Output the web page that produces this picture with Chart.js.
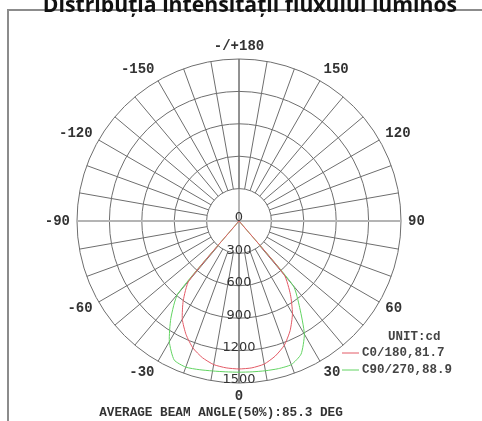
<!DOCTYPE html>
<html>
<head>
<meta charset="utf-8">
<script src="https://cdn.jsdelivr.net/npm/chart.js@4/dist/chart.umd.min.js"></script>
<style>
  html, body { margin: 0; padding: 0; background: #fff; }
  #wrap { position: relative; width: 482px; height: 421px; overflow: hidden; }
</style>
</head>
<body>
<div id="wrap"><canvas id="c" width="482" height="421"></canvas></div>
<script>
// angle labels, 5 deg steps, clockwise from the top (180) round to -175
const angles = [
  180, 175, 170, 165, 160, 155, 150, 145, 140, 135, 130, 125,
  120, 115, 110, 105, 100, 95, 90, 85, 80, 75, 70, 65,
  60, 55, 50, 45, 40, 35, 30, 25, 20, 15, 10, 5,
  0, -5, -10, -15, -20, -25, -30, -35, -40, -45, -50, -55,
  -60, -65, -70, -75, -80, -85, -90, -95, -100, -105, -110, -115,
  -120, -125, -130, -135, -140, -145, -150, -155, -160, -165, -170, -175
];

// intensity in cd, same order as angles
const c0_180 = [
  0, 0, 0, 0, 0, 0, 0, 0, 0, 0, 0, 0,
  0, 0, 0, 0, 0, 0, 0, 0, 0, 0, 0, 0,
  0, 0, 0, 0, 650, 830, 990, 1120, 1225, 1295, 1345, 1365,
  1370, 1365, 1350, 1310, 1250, 1160, 1050, 900, 720, 0, 0, 0,
  0, 0, 0, 0, 0, 0, 0, 0, 0, 0, 0, 0,
  0, 0, 0, 0, 0, 0, 0, 0, 0, 0, 0, 0
];
const c90_270 = [
  0, 0, 0, 0, 0, 0, 0, 0, 0, 0, 0, 0,
  0, 0, 0, 0, 0, 0, 0, 0, 0, 0, 0, 0,
  0, 0, 0, 0, 780, 980, 1210, 1360, 1415, 1415, 1408, 1402,
  1400, 1402, 1410, 1425, 1440, 1420, 1290, 1100, 880, 0, 0, 0,
  0, 0, 0, 0, 0, 0, 0, 0, 0, 0, 0, 0,
  0, 0, 0, 0, 0, 0, 0, 0, 0, 0, 0, 0
];

const ringStep = 300;
const ringMax = 1500;
const pointLabelAngles = [180, 150, 120, 90, 60, 30, 0, -30, -60, -90, -120, -150];
const pointLabelTexts = ['-/+180', '150', '120', '90', '60', '30', '0', '-30', '-60', '-90', '-120', '-150'];

const titleText = 'Distribuția intensității fluxului luminos';
const unitText = 'UNIT:cd';
const footText = 'AVERAGE BEAM ANGLE(50%):85.3 DEG';

const gridColor = '#6e6e6e';

// frame, grid spokes, cross lines, and all the texts
const polarDecor = {
  id: 'polarDecor',
  beforeDraw(chart) {
    const ctx = chart.ctx;
    ctx.save();
    ctx.strokeStyle = '#8c8c8c';
    ctx.lineWidth = 2;
    ctx.beginPath();
    ctx.moveTo(8, 421);
    ctx.lineTo(8, 10);
    ctx.lineTo(482, 10);
    ctx.stroke();
    ctx.restore();
  },
  beforeDatasetsDraw(chart) {
    const s = chart.scales.r;
    const ctx = chart.ctx;
    ctx.save();
    // spokes every 10 deg, from the first ring out
    ctx.strokeStyle = gridColor;
    ctx.lineWidth = 1;
    angles.forEach((a, i) => {
      if (a % 10 !== 0) return;
      const p1 = s.getPointPositionForValue(i, ringStep);
      const p2 = s.getPointPositionForValue(i, ringMax);
      ctx.beginPath();
      ctx.moveTo(p1.x, p1.y);
      ctx.lineTo(p2.x, p2.y);
      ctx.stroke();
    });
    // full horizontal and vertical lines through the centre
    const iTop = angles.indexOf(180), iBot = angles.indexOf(0);
    const iR = angles.indexOf(90), iL = angles.indexOf(-90);
    let a = s.getPointPositionForValue(iL, ringMax), b = s.getPointPositionForValue(iR, ringMax);
    ctx.strokeStyle = '#b4b4b4';
    ctx.lineWidth = 2;
    ctx.beginPath(); ctx.moveTo(a.x, a.y); ctx.lineTo(b.x, b.y); ctx.stroke();
    a = s.getPointPositionForValue(iTop, ringMax); b = s.getPointPositionForValue(iBot, ringMax);
    ctx.strokeStyle = gridColor;
    ctx.lineWidth = 1;
    ctx.beginPath(); ctx.moveTo(a.x, a.y); ctx.lineTo(b.x, b.y); ctx.stroke();
    ctx.restore();
  },
  afterDraw(chart) {
    const s = chart.scales.r;
    const ctx = chart.ctx;
    ctx.save();

    // title, cut by the top edge
    ctx.fillStyle = '#111';
    ctx.font = 'bold 21.2px "Open Sans"';
    ctx.textAlign = 'center';
    ctx.textBaseline = 'alphabetic';
    ctx.fillText(titleText, 250, 12);

    // ring values along the bottom spoke
    ctx.fillStyle = '#333';
    ctx.font = '13px "DejaVu Sans"';
    ctx.textBaseline = 'middle';
    s.ticks.forEach(t => {
      const d = s.getDistanceFromCenterForValue(t.value);
      ctx.fillText(String(t.value), s.xCenter, s.yCenter + d - 3);
    });

    // angle labels
    ctx.font = 'bold 14px "Liberation Mono"';
    pointLabelAngles.forEach((v, k) => {
      const i = angles.indexOf(v);
      const ang = s.getIndexAngle(i);
      const sin = Math.sin(ang), cos = Math.cos(ang);
      const p = s.getPointPosition(i, s.drawingArea + 7);
      const w = ctx.measureText(pointLabelTexts[k]).width;
      let cx = p.x;
      if (sin > 0.01) cx += w / 2;
      else if (sin < -0.01) cx -= w / 2;
      const cy = p.y - cos * 6;
      ctx.fillText(pointLabelTexts[k], cx, cy);
    });

    // legend
    ctx.font = 'bold 12.5px "Liberation Mono"';
    ctx.textAlign = 'left';
    ctx.fillStyle = '#444';
    ctx.fillText(unitText, 388, 337);
    chart.data.datasets.forEach((ds, k) => {
      const y = 353 + k * 17;
      ctx.strokeStyle = ds.borderColor;
      ctx.lineWidth = 1;
      ctx.beginPath(); ctx.moveTo(342, y); ctx.lineTo(359, y); ctx.stroke();
      ctx.fillText(ds.label, 362, y);
    });

    // footer
    ctx.textAlign = 'center';
    ctx.font = 'bold 12.7px "Liberation Mono"';
    ctx.fillStyle = '#333';
    ctx.fillText(footText, 221, 413);
    ctx.restore();
  }
};

new Chart(document.getElementById('c'), {
  type: 'radar',
  data: {
    labels: angles,
    datasets: [
      { label: 'C0/180,81.7', data: c0_180, borderColor: '#e35a66', borderWidth: 1, fill: false, pointRadius: 0, tension: 0.2 },
      { label: 'C90/270,88.9', data: c90_270, borderColor: '#62d462', borderWidth: 1, fill: false, pointRadius: 0, tension: 0.2 }
    ]
  },
  options: {
    responsive: false,
    animation: false,
    layout: { padding: { left: 77, right: 81, top: 59, bottom: 38 } },
    plugins: { legend: { display: false }, tooltip: { enabled: false } },
    scales: {
      r: {
        min: 0,
        max: ringMax,
        startAngle: 0,
        ticks: { display: false, stepSize: ringStep },
        grid: { circular: true, color: gridColor, lineWidth: 1 },
        angleLines: { display: false },
        pointLabels: { display: false }
      }
    }
  },
  plugins: [polarDecor]
});
</script>
</body>
</html>
